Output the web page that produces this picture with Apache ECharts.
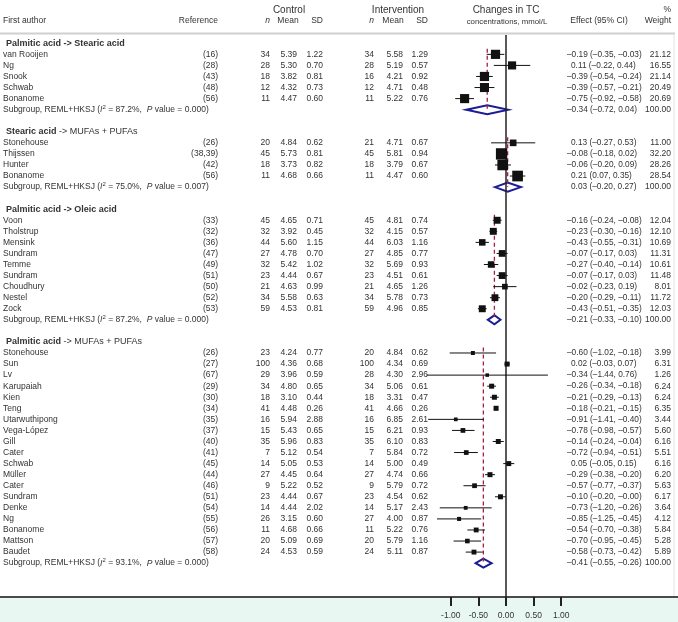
<!DOCTYPE html>
<html><head><meta charset="utf-8">
<script src="https://cdn.jsdelivr.net/npm/echarts@6/dist/echarts.min.js"></script>
<style>html,body{margin:0;padding:0;background:#fff}#c{width:678px;height:622px}</style>
</head><body><div id="c"></div>
<script>
// ---------- DATA ----------
const groupBold = ['Palmitic acid -> Stearic acid', 'Stearic acid', 'Palmitic acid -> Oleic acid', 'Palmitic acid'];
const groupRest = ['', ' -> MUFAs + PUFAs', '', ' -> MUFAs + PUFAs'];
const studyGroup = [0,0,0,0,0, 1,1,1,1, 2,2,2,2,2,2,2,2,2, 3,3,3,3,3,3,3,3,3,3,3,3,3,3,3,3,3,3,3];
const authors = ['van Rooijen','Ng','Snook','Schwab','Bonanome',
  'Stonehouse','Thijssen','Hunter','Bonanome',
  'Voon','Tholstrup','Mensink','Sundram','Temme','Sundram','Choudhury','Nestel','Zock',
  'Stonehouse','Sun','Lv','Karupaiah','Kien','Teng','Utarwuthipong','Vega-López','Gill','Cater','Schwab','Müller','Cater','Sundram','Denke','Ng','Bonanome','Mattson','Baudet'];
const refs = ['(16)','(28)','(43)','(48)','(56)',
  '(26)','(38,39)','(42)','(56)',
  '(33)','(32)','(36)','(47)','(49)','(51)','(50)','(52)','(53)',
  '(26)','(27)','(67)','(29)','(30)','(34)','(35)','(37)','(40)','(41)','(45)','(44)','(46)','(51)','(54)','(55)','(56)','(57)','(58)'];
const ctrlN = [34,28,18,12,11, 20,45,18,11, 45,32,44,27,32,23,21,34,59, 23,100,29,34,18,41,16,15,35,7,14,27,9,23,14,26,11,20,24];
const ctrlMean = [5.39,5.30,3.82,4.32,4.47, 4.84,5.73,3.73,4.68, 4.65,3.92,5.60,4.78,5.42,4.44,4.63,5.58,4.53,
  4.24,4.36,3.96,4.80,3.10,4.48,5.94,5.43,5.96,5.12,5.05,4.45,5.22,4.44,4.44,3.15,4.68,5.09,4.53];
const ctrlSD = [1.22,0.70,0.81,0.73,0.60, 0.62,0.81,0.82,0.66, 0.71,0.45,1.15,0.70,1.02,0.67,0.99,0.63,0.81,
  0.77,0.68,0.59,0.65,0.44,0.26,2.88,0.65,0.83,0.54,0.53,0.64,0.52,0.67,2.02,0.60,0.66,0.69,0.59];
const intN = [34,28,16,12,11, 21,45,18,11, 45,32,44,27,32,23,21,34,59, 20,100,28,34,18,41,16,15,35,7,14,27,9,23,14,27,11,20,24];
const intMean = [5.58,5.19,4.21,4.71,5.22, 4.71,5.81,3.79,4.47, 4.81,4.15,6.03,4.85,5.69,4.51,4.65,5.78,4.96,
  4.84,4.34,4.30,5.06,3.31,4.66,6.85,6.21,6.10,5.84,5.00,4.74,5.79,4.54,5.17,4.00,5.22,5.79,5.11];
const intSD = [1.29,0.57,0.92,0.48,0.76, 0.67,0.94,0.67,0.60, 0.74,0.57,1.16,0.77,0.93,0.61,1.26,0.73,0.85,
  0.62,0.69,2.96,0.61,0.47,0.26,2.61,0.93,0.83,0.72,0.49,0.66,0.72,0.62,2.43,0.87,0.76,1.16,0.87];
const effect = [-0.19,0.11,-0.39,-0.39,-0.75, 0.13,-0.08,-0.06,0.21, -0.16,-0.23,-0.43,-0.07,-0.27,-0.07,-0.02,-0.20,-0.43,
  -0.60,0.02,-0.34,-0.26,-0.21,-0.18,-0.91,-0.78,-0.14,-0.72,0.05,-0.29,-0.57,-0.10,-0.73,-0.85,-0.54,-0.70,-0.58];
const ciLow = [-0.35,-0.22,-0.54,-0.57,-0.92, -0.27,-0.18,-0.20,0.07, -0.24,-0.30,-0.55,-0.17,-0.40,-0.17,-0.23,-0.29,-0.51,
  -1.02,-0.03,-1.44,-0.34,-0.29,-0.21,-1.41,-0.98,-0.24,-0.94,-0.05,-0.38,-0.77,-0.20,-1.20,-1.25,-0.70,-0.95,-0.73];
const ciHigh = [-0.03,0.44,-0.24,-0.21,-0.58, 0.53,0.02,0.09,0.35, -0.08,-0.16,-0.31,0.03,-0.14,0.03,0.19,-0.11,-0.35,
  -0.18,0.07,0.76,-0.18,-0.13,-0.15,-0.40,-0.57,-0.04,-0.51,0.15,-0.20,-0.37,-0.004,-0.26,-0.45,-0.38,-0.45,-0.42];
const weight = [21.12,16.55,21.14,20.49,20.69, 11.00,32.20,28.26,28.54, 12.04,12.10,10.69,11.31,10.61,11.48,8.01,11.72,12.03,
  3.99,6.31,1.26,6.24,6.24,6.35,3.44,5.60,6.16,5.51,6.16,6.20,5.63,6.17,3.64,4.12,5.84,5.28,5.89];
const subI2 = ['87.2%','75.0%','87.2%','93.1%'];
const subP = ['0.000','0.007','0.000','0.000'];
const subEffect = [-0.34,0.03,-0.21,-0.41];
const subLow = [-0.72,-0.20,-0.33,-0.55];
const subHigh = [0.04,0.27,-0.10,-0.26];
const subWeight = ['100.00','100.00','100.00','100.00'];
const tickVals = [-1,-0.5,0,0.5,1];

// ---------- LAYOUT ----------
const FONT = '"Liberation Sans", Arial, sans-serif';
const TXT = '#333';
const FS = 8.5, EFS = 8.3, HFS = 9;
const S = 55.2, ZX = 506;
const rows = [];
for (let g=0; g<4; g++){
  rows.push({t:'head', g});
  studyGroup.forEach((sg,k)=>{ if(sg===g) rows.push({t:'study', k}); });
  rows.push({t:'sub', g});
  if (g<3) rows.push({t:'blank'});
}
const rowOfStudy = {}, headRow = {}, subRow = {};
rows.forEach((r,i)=>{ if(r.t==='study') rowOfStudy[r.k]=i; if(r.t==='head') headRow[r.g]=i; if(r.t==='sub') subRow[r.g]=i; });

const mfmt = v => (v<0 ? '\u2013' : '') + Math.abs(v).toFixed(2);
const effStr = (e,l,h) => mfmt(e) + ' (' + mfmt(l) + ', ' + mfmt(h) + ')';

function T(text,x,y,align,extra){
  return {type:'text', style:Object.assign({text, x, y, fill:TXT, fontSize:FS, fontFamily:FONT,
    align, textAlign:align, verticalAlign:'middle', textVerticalAlign:'middle'}, extra||{})};
}

const chart = echarts.init(document.getElementById('c'), null, {renderer:'canvas'});

function textRender(params, api){
  const i = params.dataIndex; const r = rows[i];
  const y = api.coord([0, i])[1];
  const ch = [];
  if (r.t==='head'){
    ch.push({type:'text', style:{text:'{b|'+groupBold[r.g]+'}'+(groupRest[r.g]?'{r|'+groupRest[r.g]+'}':''), x:6, y,
      fill:TXT, fontSize:HFS, fontFamily:FONT, align:'left', textAlign:'left', verticalAlign:'middle', textVerticalAlign:'middle',
      rich:{b:{fontWeight:'bold', fontSize:HFS, fontFamily:FONT, fill:TXT, color:TXT}, r:{fontSize:HFS, fontFamily:FONT, fill:TXT, color:TXT}}}});
  } else if (r.t==='study'){
    const k = r.k;
    ch.push(T(authors[k], 3, y, 'left'));
    ch.push(T(refs[k], 218, y, 'right'));
    ch.push(T(String(ctrlN[k]), 270, y, 'right'));
    ch.push(T(ctrlMean[k].toFixed(2), 297, y, 'right'));
    ch.push(T(ctrlSD[k].toFixed(2), 323, y, 'right'));
    ch.push(T(String(intN[k]), 374, y, 'right'));
    ch.push(T(intMean[k].toFixed(2), 403, y, 'right'));
    ch.push(T(intSD[k].toFixed(2), 428, y, 'right'));
    ch.push(T(effStr(effect[k],ciLow[k],ciHigh[k]), effect[k]<0?567:571, y, 'left', {fontSize:EFS}));
    ch.push(T(weight[k].toFixed(2), 671, y, 'right'));
  } else if (r.t==='sub'){
    const g = r.g;
    ch.push({type:'text', style:{text:'Subgroup, REML+HKSJ ({i|I}{s|2} = '+subI2[g]+',  {i|P} value = '+subP[g]+')', x:3, y,
      fill:TXT, fontSize:FS, fontFamily:FONT, align:'left', textAlign:'left', verticalAlign:'middle', textVerticalAlign:'middle',
      rich:{i:{fontStyle:'italic', fontSize:FS, fontFamily:FONT, fill:TXT, color:TXT},
            s:{fontSize:6, fontFamily:FONT, fill:TXT, color:TXT, verticalAlign:'top', padding:[0,0,5,0]}}}});
    ch.push(T(effStr(subEffect[g],subLow[g],subHigh[g]), subEffect[g]<0?567:571, y, 'left', {fontSize:EFS}));
    ch.push(T(subWeight[g], 671, y, 'right'));
  }
  return {type:'group', children:ch};
}

function studyRender(params, api){
  const row = api.value(1);
  const p = api.coord([api.value(0), row]);
  const lo = api.coord([api.value(2), row]);
  const hi = api.coord([api.value(3), row]);
  const s = Math.max(3.5, 2*Math.sqrt(api.value(4)));
  return {type:'group', children:[
    {type:'line', shape:{x1:lo[0], y1:p[1], x2:hi[0], y2:p[1]}, style:{stroke:'#111', lineWidth:1}},
    {type:'rect', shape:{x:p[0]-s/2, y:p[1]-s/2, width:s, height:s}, style:{fill:'#111'}}
  ]};
}
function diamondRender(params, api){
  const row = api.value(1);
  const p = api.coord([api.value(0), row]);
  const lo = api.coord([api.value(2), row]);
  const hi = api.coord([api.value(3), row]);
  const h = 4.5;
  return {type:'polygon', shape:{points:[[lo[0],p[1]],[p[0],p[1]-h],[hi[0],p[1]],[p[0],p[1]+h]]},
    style:{fill:'#fff', stroke:'#1c1c96', lineWidth:2}};
}
function dashRender(params, api){
  const a = api.coord([api.value(0), api.value(1)]);
  const b = api.coord([api.value(0), api.value(2)]);
  return {type:'line', shape:{x1:a[0], y1:a[1], x2:b[0], y2:b[1]}, style:{stroke:'#a3203f', lineWidth:1.3, lineDash:[4,3]}};
}

const studyData = effect.map((e,k)=>[e, rowOfStudy[k], ciLow[k], ciHigh[k], weight[k]]);
const diamondData = subEffect.map((e,g)=>[e, subRow[g], subLow[g], subHigh[g]]);
const dashData = subEffect.map((e,g)=>[e, headRow[g]+0.5, subRow[g]]);
const textData = rows.map((r,i)=>[0,i]);

const hdr = (text,x,y,align,fs,extra)=>({type:'text', z:10, style:Object.assign({text, x, y, fill:TXT, fontSize:fs, fontFamily:FONT,
  align, textAlign:align, verticalAlign:'middle', textVerticalAlign:'middle'}, extra||{})});

chart.setOption({
  animation:false,
  grid:{left:ZX-1.5*S, width:3*S, top:35, bottom:25},
  xAxis:{type:'value', min:-1.5, max:1.5, interval:0.5, position:'bottom',
    axisLine:{show:false, onZero:false}, splitLine:{show:false},
    axisTick:{show:true, length:9, lineStyle:{color:'#222', width:2}, customValues:tickVals},
    axisLabel:{customValues:tickVals, formatter:v=>(v<0?'-':'')+Math.abs(v).toFixed(2), margin:14, fontSize:8.5, color:TXT, fontFamily:FONT}},
  yAxis:{type:'value', inverse:true, min:-0.75, max:50.06, show:false},
  graphic:[
    {type:'rect', z:-10, shape:{x:0, y:597, width:678, height:25}, style:{fill:'#e9f7f3'}},
    {type:'line', z:-5, shape:{x1:0, y1:33.5, x2:675, y2:33.5}, style:{stroke:'#cfcfcf', lineWidth:2}},
    {type:'line', z:-5, shape:{x1:674, y1:34, x2:674, y2:597}, style:{stroke:'#e4e4e4', lineWidth:1}},
    {type:'line', z:-5, shape:{x1:0, y1:597, x2:678, y2:597}, style:{stroke:'#4a4a4a', lineWidth:2}},
    hdr('Control', 289, 10, 'center', 10),
    hdr('Intervention', 398, 10, 'center', 10),
    hdr('Changes in TC', 506, 10, 'center', 10),
    hdr('concentrations, mmol/L', 507, 22, 'center', 7.8),
    hdr('First author', 3, 21, 'left', FS),
    hdr('Reference', 218, 21, 'right', FS),
    hdr('n', 270, 21, 'right', FS, {fontStyle:'italic'}),
    hdr('Mean', 288, 21, 'center', FS),
    hdr('SD', 323, 21, 'right', FS),
    hdr('n', 374, 21, 'right', FS, {fontStyle:'italic'}),
    hdr('Mean', 393, 21, 'center', FS),
    hdr('SD', 428, 21, 'right', FS),
    hdr('Effect (95% CI)', 599, 21, 'center', FS),
    hdr('%', 671, 10, 'right', FS),
    hdr('Weight', 671, 21, 'right', FS)
  ],
  series:[
    {type:'custom', z:2, renderItem:diamondRender, data:diamondData, encode:{x:0,y:1}, clip:false, silent:true},
    {type:'custom', z:3, renderItem:dashRender, data:dashData, encode:{x:0,y:1}, clip:false, silent:true},
    {type:'line', z:4, data:[[0,-0.75],[0,50.06]], symbol:'none', lineStyle:{color:'#222', width:1.5}, silent:true},
    {type:'custom', z:5, renderItem:studyRender, data:studyData, encode:{x:0,y:1}, clip:false, silent:true},
    {type:'custom', z:6, renderItem:textRender, data:textData, encode:{x:0,y:1}, clip:false, silent:true}
  ]
});
</script></body></html>
